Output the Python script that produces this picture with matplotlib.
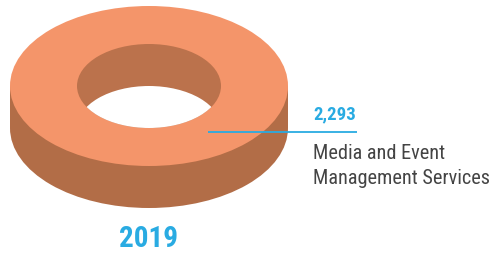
import matplotlib
matplotlib.use("Agg")
import matplotlib.pyplot as plt
from matplotlib.patches import Ellipse, Rectangle
from matplotlib import font_manager

# data
year = "2019"
values = [2293]
labels = ["Media and Event\nManagement Services"]

top_color = "#F4956A"
side_color = "#B26D47"
hole_color = "#BB724C"
blue = "#29ABE2"

names = {f.name for f in font_manager.fontManager.ttflist}
font = "Roboto"
for cand in ["Roboto Condensed", "Liberation Sans Narrow", "Open Sans Condensed"]:
    if cand in names:
        font = cand
        break
condensed = font != "Roboto"

fig = plt.figure(figsize=(4.92, 2.62), dpi=100)
ax = fig.add_axes([0, 0, 1, 1])
ax.set_xlim(0, 492)
ax.set_ylim(262, 0)
ax.axis("off")

# ring geometry (pixels)
cx, cy = 149, 86
a_out, b_out = 139, 80
a_in, b_in = 72, 42
depth = 42

# outer side
ax.add_patch(Ellipse((cx, cy + depth), 2 * a_out, 2 * b_out, color=side_color, lw=0))
ax.add_patch(Rectangle((cx - a_out, cy), 2 * a_out, depth, color=side_color, lw=0))
# top face
ax.add_patch(Ellipse((cx, cy), 2 * a_out, 2 * b_out, color=top_color, lw=0))
# hole wall
hole = Ellipse((cx, cy), 2 * a_in, 2 * b_in, color=hole_color, lw=0)
ax.add_patch(hole)
see_through = Ellipse((cx, cy + depth), 2 * a_in, 2 * b_in, color="white", lw=0)
ax.add_patch(see_through)
see_through.set_clip_path(hole)

# leader line and labels
ax.plot([208, 357], [132, 132], color=blue, lw=1.3, solid_capstyle="butt")
ax.text(313, 114, f"{values[0]:,}", color=blue, fontsize=13.5, fontweight="bold",
        family=font, va="center", ha="left")
ax.text(313, 166, labels[0], color="#444444", fontsize=14.6 if condensed else 12,
        family=font, va="center", ha="left", linespacing=1.45)
ax.text(cx, 239, year, color=blue, fontsize=21, fontweight="bold",
        family=font, va="center", ha="center")

fig.savefig("out.png", dpi=100)
